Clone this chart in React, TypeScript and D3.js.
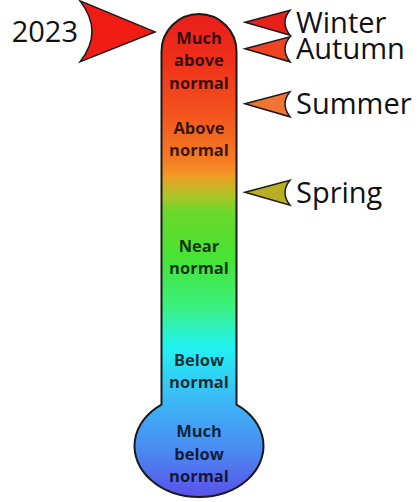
import React from "react";
import * as d3 from "d3";

// position on the thermometer (0 = bottom of bulb, 100 = top of tube)
const levelNames = ["Much above normal", "Above normal", "Near normal", "Below normal", "Much below normal"];
const levelValues = [90.6, 74.3, 49.9, 26.3, 9.2];

const seasons = ["Winter", "Autumn", "Summer", "Spring"];
const seasonValues = [98.3, 92.8, 81.4, 63.1];
const seasonColors = ["#e8201c", "#ee4424", "#f07434", "#b8ae22"];

const yearLabel = "2023";
const yearValue = 96.3;

const gradientOffsets = [100, 90, 80, 70, 67, 66, 62, 59, 49, 40, 31, 20, 10, 0];
const gradientColors = [
  "#e81e1c", "#f0301a", "#f2521e", "#f47a22", "#f49426", "#e8a226", "#a8c828",
  "#6ad82a", "#44e436", "#3cf07a", "#22f2f2", "#3cb8f6", "#4a8cf2", "#5a50ea",
];

export default function App() {
  const W = 420;
  const H = 502;
  const y = d3.scaleLinear().domain([0, 100]).range([497, 14]);

  const tubeL = 161.5;
  const tubeR = 236.5;
  const cx = (tubeL + tubeR) / 2;
  const r = (tubeR - tubeL) / 2;
  const bulb = { cx: 199, cy: 446, rx: 64.5, ry: 51 };
  const dx = (tubeR - bulb.cx) / bulb.rx;
  const joinY = bulb.cy - bulb.ry * Math.sqrt(1 - dx * dx);

  const p = d3.path();
  p.moveTo(tubeL, joinY);
  p.lineTo(tubeL, y(100) + r);
  p.arc(cx, y(100) + r, r, Math.PI, 2 * Math.PI);
  p.lineTo(tubeR, joinY);
  const outline = p.toString() + `A${bulb.rx},${bulb.ry} 0 1 1 ${tubeL},${joinY}Z`;

  const seasonArrow = (v: number) => {
    const ty = y(v);
    const tx = 245;
    return `M${tx},${ty}L${tx + 45},${ty - 12}Q${tx + 35},${ty} ${tx + 45},${ty + 13}Z`;
  };

  const yy = y(yearValue);
  const yearArrow = `M155,${yy}L80,${yy - 31}Q104,${yy} 80,${yy + 30}Z`;

  const lineH = 22.5;

  return (
    <div style={{ position: "absolute", left: 0, top: 0 }}>
      <svg width={W} height={H} style={{ display: "block", background: "#fff" }}>
        <defs>
          <linearGradient id="therm" gradientUnits="userSpaceOnUse" x1={0} x2={0} y1={y(100)} y2={y(0)}>
            {gradientOffsets.map((o, i) => (
              <stop key={i} offset={(100 - o) / 100} stopColor={gradientColors[i]} />
            ))}
          </linearGradient>
        </defs>

        <path d={outline} fill="url(#therm)" stroke="#1a1a1a" strokeWidth={2} />

        <g fontFamily="'Open Sans', sans-serif" fontWeight="bold" fontSize={16.5} fill="#000" fillOpacity={0.78} textAnchor="middle">
          {levelNames.map((name, i) => {
            const lines = name.split(" ");
            const c = y(levelValues[i]);
            return (
              <text key={name} x={cx} y={c - ((lines.length - 1) * lineH) / 2} dominantBaseline="central">
                {lines.map((w, j) => (
                  <tspan key={j} x={cx} dy={j === 0 ? 0 : lineH}>
                    {w}
                  </tspan>
                ))}
              </text>
            );
          })}
        </g>

        <path d={yearArrow} fill="#f01c14" stroke="#1a1a1a" strokeWidth={1.5} />
        <text x={78} y={yy + 10} textAnchor="end" fontFamily="'Open Sans', sans-serif" fontSize={29} fill="#111">
          {yearLabel}
        </text>

        {seasons.map((s, i) => (
          <g key={s}>
            <path d={seasonArrow(seasonValues[i])} fill={seasonColors[i]} stroke="#1a1a1a" strokeWidth={1.5} />
            <text x={296} y={y(seasonValues[i]) + 10.5} fontFamily="'Open Sans', sans-serif" fontSize={29} fill="#111">
              {s}
            </text>
          </g>
        ))}
      </svg>
    </div>
  );
}
